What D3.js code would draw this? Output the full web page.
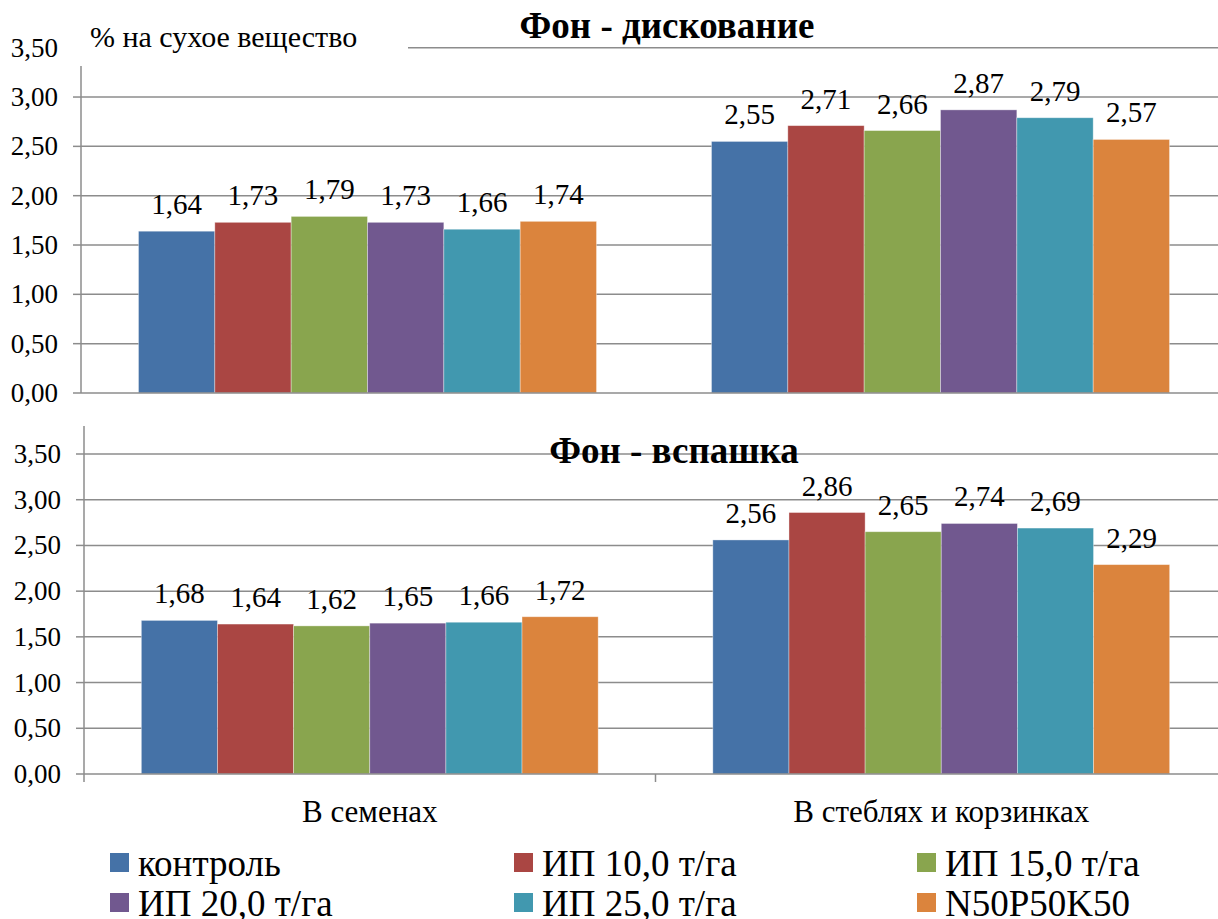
<!DOCTYPE html>
<html>
<head>
<meta charset="utf-8">
<script src="https://cdn.jsdelivr.net/npm/d3@7"></script>
<style>
  html, body { margin: 0; padding: 0; background: #fff; }
</style>
</head>
<body>
<svg id="chart" width="1218" height="919"></svg>
<script>
// Categories (plant parts) and treatments
const categories = ["В семенах", "В стеблях и корзинках"];
const seriesNames = ["контроль", "ИП 10,0 т/га", "ИП 15,0 т/га", "ИП 20,0 т/га", "ИП 25,0 т/га", "N50P50K50"];
const seriesColors = ["#4572A7", "#AA4643", "#89A54E", "#71588F", "#4198AF", "#DB843D"];

// Values, % of dry matter — disking background
const diskSeeds = [1.64, 1.73, 1.79, 1.73, 1.66, 1.74];
const diskStems = [2.55, 2.71, 2.66, 2.87, 2.79, 2.57];
// Values, % of dry matter — ploughing background
const ploughSeeds = [1.68, 1.64, 1.62, 1.65, 1.66, 1.72];
const ploughStems = [2.56, 2.86, 2.65, 2.74, 2.69, 2.29];

const yTicks = [0, 0.5, 1, 1.5, 2, 2.5, 3, 3.5];
const fmt = v => v.toFixed(2).replace(".", ",");

const FONT = "serif";
const svg = d3.select("#chart");
const gridColor = "#8c8c8c";

function panel(opts) {
  const { left, right, y0, y1, seeds, stems, xTicks, axisTop } = opts;
  const g = svg.append("g");
  const y = d3.scaleLinear().domain([0, 3.5]).range([y0, y1]);
  const x = d3.scaleBand().domain(categories).range([left, right]).paddingInner(0).paddingOuter(0);
  const xs = d3.scaleBand().domain(seriesNames).range([0, x.bandwidth()]).paddingInner(0).paddingOuter(0.753);

  // horizontal gridlines
  g.selectAll("line.grid").data(yTicks.filter(t => t > 0)).join("line")
    .attr("x1", left).attr("x2", 1218)
    .attr("y1", d => y(d)).attr("y2", d => y(d))
    .attr("stroke", gridColor).attr("stroke-width", 1.5);

  const rows = [seeds, stems];
  categories.forEach((c, ci) => {
    const vals = rows[ci];
    g.selectAll(null).data(vals).join("rect")
      .attr("x", (d, i) => x(c) + xs(seriesNames[i]))
      .attr("width", xs.bandwidth())
      .attr("y", d => y(d))
      .attr("height", d => y(0) - y(d))
      .attr("fill", (d, i) => seriesColors[i])
      .attr("stroke", "rgba(255,255,255,0.45)")
      .attr("stroke-width", 0.8);
    g.selectAll(null).data(vals).join("text")
      .attr("font-family", FONT)
      .attr("x", (d, i) => x(c) + xs(seriesNames[i]) + xs.bandwidth() / 2)
      .attr("y", d => y(d) - 17)
      .attr("text-anchor", "middle")
      .attr("font-size", 29)
      .text(d => fmt(d));
  });

  // value axis
  g.append("line").attr("x1", left).attr("x2", left).attr("y1", axisTop).attr("y2", y0)
    .attr("stroke", gridColor).attr("stroke-width", 1.5);
  g.selectAll("line.ytick").data(yTicks).join("line")
    .attr("x1", left - 8).attr("x2", left)
    .attr("y1", d => y(d)).attr("y2", d => y(d))
    .attr("stroke", gridColor).attr("stroke-width", 1.5);
  // category axis line
  g.append("line").attr("x1", left).attr("x2", 1218).attr("y1", y0).attr("y2", y0)
    .attr("stroke", gridColor).attr("stroke-width", 1.5);
  if (xTicks) {
    const edges = [left, ...categories.map(c => x(c) + x.bandwidth())];
    g.selectAll("line.xtick").data(edges).join("line")
      .attr("x1", d => d).attr("x2", d => d).attr("y1", y0).attr("y2", y0 + 8)
      .attr("stroke", gridColor).attr("stroke-width", 1.5);
  }

  return { g, y, x, left, y0 };
}

// Upper panel — disking
const panelDisk = panel({ left: 81, right: 1227, y0: 393, y1: 47.7,
  seeds: diskSeeds, stems: diskStems, xTicks: false, axisTop: 20 });
// Lower panel — ploughing
const panelPlough = panel({ left: 84, right: 1227, y0: 774, y1: 454,
  seeds: ploughSeeds, stems: ploughStems, xTicks: true, axisTop: 426 });

// axis title box of the upper panel
svg.append("rect").attr("x", 72).attr("y", 0).attr("width", 336).attr("height", 66).attr("fill", "#fff");
svg.append("text").attr("font-family", FONT)
  .attr("x", 90).attr("y", 47).attr("font-size", 30).text("% на сухое вещество");

// tick labels
[panelDisk, panelPlough].forEach(p => {
  svg.append("g").selectAll("text").data(yTicks).join("text")
    .attr("font-family", FONT)
    .attr("x", p.left - 23).attr("y", d => p.y(d) + 9)
    .attr("text-anchor", "end").attr("font-size", 27)
    .text(d => fmt(d));
});

// panel titles
svg.append("text").attr("font-family", FONT)
  .attr("x", 667).attr("y", 38).attr("text-anchor", "middle")
  .attr("font-size", 37).attr("font-weight", "bold").text("Фон - дискование");
svg.append("text").attr("font-family", FONT)
  .attr("x", 674).attr("y", 463).attr("text-anchor", "middle")
  .attr("font-size", 37).attr("font-weight", "bold").text("Фон - вспашка");

// category labels
svg.append("g").selectAll("text").data(categories).join("text")
  .attr("font-family", FONT)
  .attr("x", d => panelPlough.x(d) + panelPlough.x.bandwidth() / 2)
  .attr("y", 822).attr("text-anchor", "middle").attr("font-size", 31)
  .text(d => d);

// legend
const legX = [110, 514, 917];
const legY = [876, 916];
const leg = svg.append("g").selectAll("g").data(seriesNames).join("g")
  .attr("transform", (d, i) => `translate(${legX[i % 3]},${legY[Math.floor(i / 3)]})`);
leg.append("rect").attr("x", 0).attr("y", -23).attr("width", 19).attr("height", 19)
  .attr("fill", (d, i) => seriesColors[i]);
leg.append("text").attr("font-family", FONT)
  .attr("x", 28).attr("y", 0).attr("font-size", 37).text(d => d);
</script>
</body>
</html>
